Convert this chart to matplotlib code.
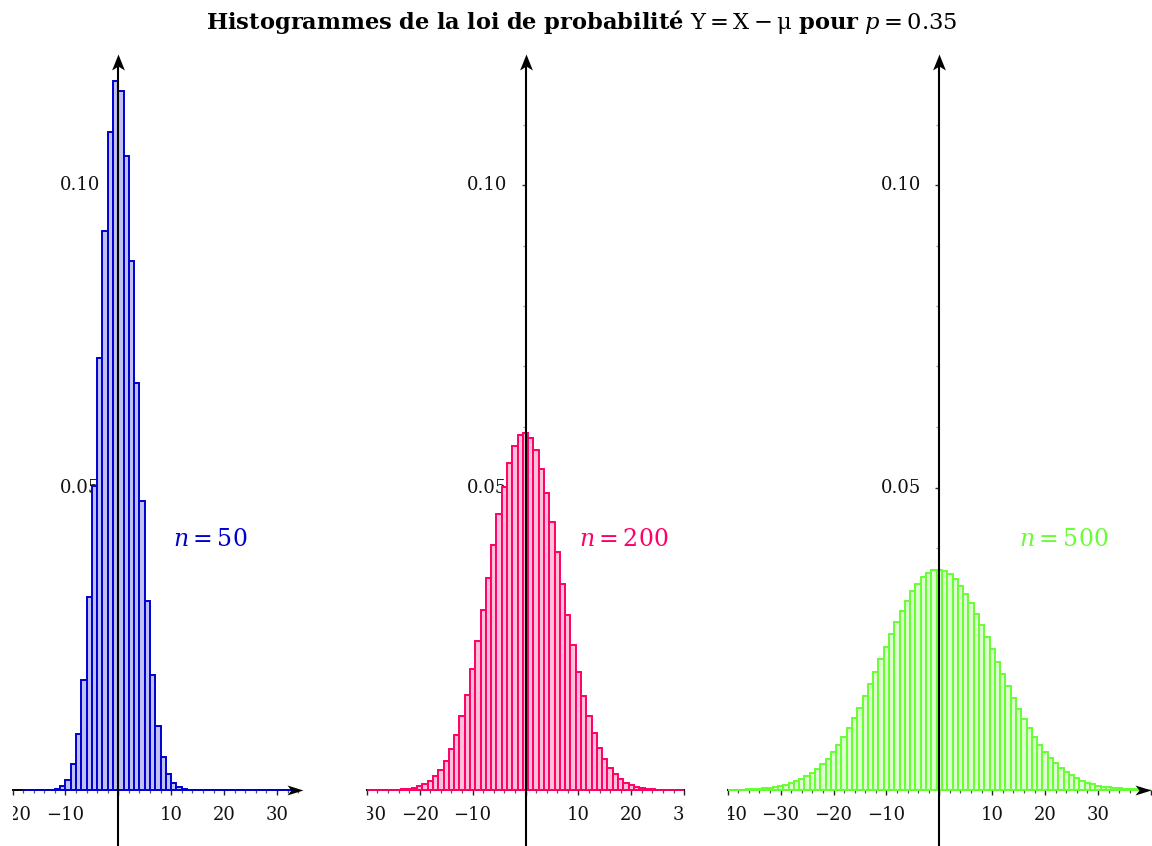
import numpy as np
import matplotlib
matplotlib.use("Agg")
import matplotlib.pyplot as plt
from matplotlib.transforms import offset_copy
from matplotlib.path import Path

plt.rcParams['font.family'] = ['DejaVu Serif']
plt.rcParams['mathtext.fontset'] = 'dejavuserif'

# ---------------- data ----------------
p = 0.35
n_values = [50, 200, 500]
k_start = [0, 40, 135]          # first value of X shown for each n

prob_50 = [0.0, 0.0, 0.0, 0.000001, 0.000009, 0.000042, 0.000171, 0.000580,
           0.001678, 0.004217, 0.009309, 0.018227, 0.031897, 0.050204, 0.071444,
           0.092328, 0.108752, 0.117118, 0.115617, 0.104851, 0.087510, 0.067315,
           0.047779, 0.031320, 0.018973, 0.010625, 0.005501, 0.002633, 0.001165,
           0.000476, 0.000179, 0.000062, 0.000020, 0.000006, 0.0, 0.0, 0.0, 0.0,
           0.0, 0.0, 0.0, 0.0, 0.0, 0.0, 0.0, 0.0, 0.0, 0.0, 0.0, 0.0, 0.0]

prob_200 = [0.000001, 0.000003, 0.000006, 0.000012, 0.000023, 0.000042, 0.000077,
            0.000135, 0.000231, 0.000386, 0.000628, 0.000994, 0.001533, 0.002305,
            0.003378, 0.004828, 0.006731, 0.009156, 0.012155, 0.015752, 0.019932,
            0.024632, 0.029736, 0.035073, 0.040427, 0.045546, 0.050164, 0.054023,
            0.056895, 0.058608, 0.059059, 0.058227, 0.056174, 0.053037, 0.049012,
            0.044337, 0.039266, 0.034049, 0.028912, 0.024042, 0.019580, 0.015619,
            0.012205, 0.009343, 0.007007, 0.005149, 0.003707, 0.002616, 0.001809,
            0.001226, 0.000814, 0.000530, 0.000338, 0.000211, 0.000129, 0.000078,
            0.000046, 0.000027, 0.000015, 0.000008, 0.000005]

prob_500 = [0.0000256, 0.0000369, 0.0000528, 0.0000748, 0.0001049, 0.0001456,
            0.0002002, 0.0002726, 0.0003675, 0.0004906, 0.0006485, 0.0008491,
            0.0011010, 0.0014140, 0.0017987, 0.0022664, 0.0028286, 0.0034972,
            0.0042831, 0.0051966, 0.0062462, 0.0074382, 0.0087756, 0.0102582,
            0.0118810, 0.0136347, 0.0155043, 0.0174700, 0.0195064, 0.0215832,
            0.0236661, 0.0257169, 0.0276951, 0.0295592, 0.0312679, 0.0328199,
            0.0341043, 0.0351262, 0.0358603, 0.0362883, 0.0364000, 0.0361932,
            0.0356741, 0.0348570, 0.0337635, 0.0324217, 0.0308647, 0.0291297,
            0.0272563, 0.0252850, 0.0232559, 0.0212073, 0.0191746, 0.0171897,
            0.0152797, 0.0134672, 0.0117696, 0.0101994, 0.0087644, 0.0074682,
            0.0063104, 0.0052876, 0.0043936, 0.0036203, 0.0029584, 0.0023974,
            0.0019268, 0.0015357, 0.0012139, 0.0009516, 0.0007399, 0.0005705,
            0.0004363, 0.0003309, 0.0002489, 0.0001857, 0.0001375, 0.0001009,
            0.0000735, 0.0000530, 0.0000380]

probs = [prob_50, prob_200, prob_500]

x_limits = [(-20, 35), (-30, 30), (-40, 40)]
x_label_values = [[-20, -10, 10, 20, 30],
                  [-30, -20, -10, 10, 20, 30],
                  [-40, -30, -20, -10, 10, 20, 30]]
y_label_values = [0.05, 0.10]
x_arrow = [True, False, True]
n_label_x = [17.3, 18.6, 23.6]

edge_colors = ['#0000D0', '#FF0066', '#66FF33']
face_colors = ['#C0C0F2', '#FFC0D8', '#DDFFD0']

# ---------------- layout (pixels) ----------------
W, H = 1152, 846
x_ppu = 5.29                 # pixels per x unit
y_ppu = 6050.0               # pixels per probability unit
baseline_px = 790.0          # y of the x axis, from top
axis_px = [118.3, 525.5, 939.3]
y_lim = (-(H - baseline_px) / y_ppu, baseline_px / y_ppu)
tip_px = 54.0
y_tip = (baseline_px - tip_px) / y_ppu

# stealth-like arrow heads (marker paths)
up_head = Path([(0, 1), (0.8, -1), (0, -0.5), (-0.8, -1), (0, 1)],
               [Path.MOVETO, Path.LINETO, Path.LINETO, Path.LINETO, Path.CLOSEPOLY])
right_head = Path([(1, 0), (-1, 0.62), (-0.5, 0), (-1, -0.62), (1, 0)],
                  [Path.MOVETO, Path.LINETO, Path.LINETO, Path.LINETO, Path.CLOSEPOLY])
head_len_px = 16.0
head_ms = head_len_px * 72 / 100

fig = plt.figure(figsize=(W / 100, H / 100), dpi=100)

def minus(v):
    return ("\u2212%d" % -v) if v < 0 else "%d" % v

for i in range(3):
    xmin, xmax = x_limits[i]
    left = (axis_px[i] + xmin * x_ppu) / W
    width = (xmax - xmin) * x_ppu / W
    ax = fig.add_axes([left, 0, width, 1])
    ax.set_xlim(xmin, xmax)
    ax.set_ylim(*y_lim)
    ax.patch.set_visible(False)

    n = n_values[i]
    k = np.arange(k_start[i], k_start[i] + len(probs[i]))
    y_vals = k - n * p
    ax.bar(y_vals, probs[i], width=1.0, color=face_colors[i],
           edgecolor=edge_colors[i], linewidth=1.4, zorder=2)

    # axes lines
    for s in ['top', 'right']:
        ax.spines[s].set_visible(False)
    ax.spines['left'].set_position(('data', 0))
    ax.spines['bottom'].set_position(('data', 0))
    ax.spines['left'].set_bounds(y_lim[0], y_tip - 10 / y_ppu)
    ax.spines['bottom'].set_bounds(xmin, xmax - (10 / x_ppu if x_arrow[i] else 0))
    ax.spines['left'].set_linewidth(1.5)
    ax.spines['bottom'].set_linewidth(1.4)
    ax.spines['left'].set_zorder(4)
    ax.spines['bottom'].set_zorder(1.5)

    ax.set_xticks(np.arange(xmin, xmax + 1, 10))
    ax.set_xticks(np.arange(xmin, xmax + 1, 2), minor=True)
    ax.set_yticks(y_label_values)
    ax.set_yticks([v / 100 for v in range(1, 12) if v not in (5, 10)], minor=True)
    ax.tick_params(axis='x', which='major', direction='out', length=3.5,
                   width=1.0, color='#222222', labelbottom=False)
    ax.tick_params(axis='x', which='minor', direction='out', length=2.2,
                   width=0.9, color='#555555')
    ax.tick_params(axis='y', which='major', direction='out', length=3.0,
                   width=1.0, color='#333333', labelleft=False)
    ax.tick_params(axis='y', which='minor', direction='out', length=2.5,
                   width=0.9, color='#999999')

    # arrow heads
    ax.plot([0], [y_tip - (head_len_px / 2) / y_ppu], marker=up_head,
            ms=head_ms, color='black', mew=0, zorder=5, clip_on=False)
    if x_arrow[i]:
        ax.plot([xmax - (head_len_px / 2) / x_ppu], [0], marker=right_head,
                ms=head_ms, color='black', mew=0, zorder=5, clip_on=False)

    # tick labels (clipped to the axis range)
    for xv in x_label_values[i]:
        ax.text(xv, (baseline_px - 815) / y_ppu, minus(xv), ha='center',
                va='center', fontsize=13, color='#111111', clip_on=True, zorder=1)
    lab_tr = offset_copy(ax.transData, fig=fig, x=-18, y=0, units='dots')
    for yv in y_label_values:
        ax.text(0, yv, "%.2f" % yv, transform=lab_tr, ha='right', va='center',
                fontsize=13, color='#111111', zorder=1)

    ax.text(n_label_x[i], (baseline_px - 539.5) / y_ppu, r'$n = %d$' % n,
            color=edge_colors[i], ha='center', va='center', fontsize=17, zorder=3)

fig.text(582 / W, 1 - 22 / H,
         r'$\mathbf{Histogrammes\ de\ la\ loi\ de\ probabilité}\ \mathrm{Y = X - \mu}\ \mathbf{pour}\ p = 0.35$',
         ha='center', va='center', fontsize=16.3)

fig.savefig('out.png', dpi=100)
